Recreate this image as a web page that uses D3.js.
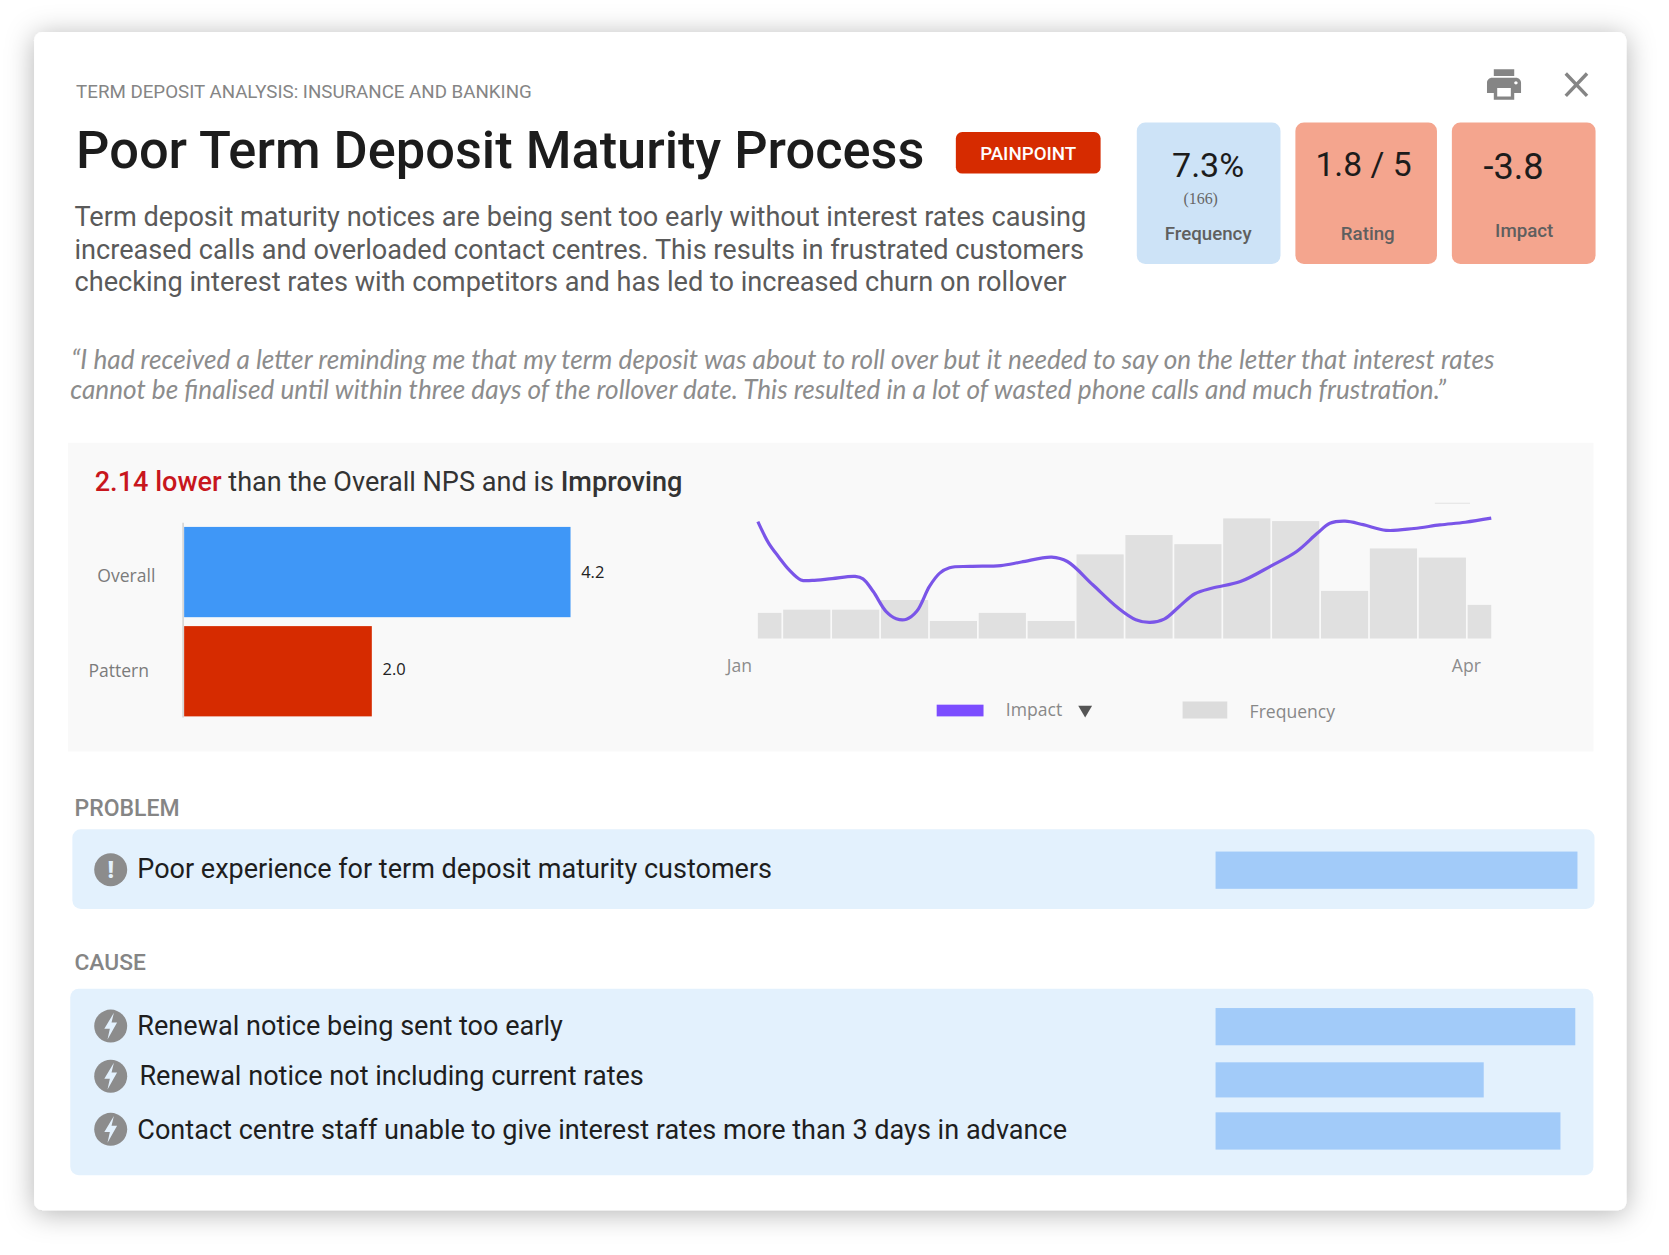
<!DOCTYPE html>
<html>
<head>
<meta charset="utf-8">
<script src="https://cdn.jsdelivr.net/npm/d3@7"></script>
<style>
  html, body { margin: 0; padding: 0; background: #fff; }
  text { font-family: Roboto, sans-serif; }
  .open { font-family: "Open Sans", sans-serif; }
</style>
</head>
<body>
<svg id="chart"></svg>
<script>
// nps bars
const npsLabels = ["Overall", "Pattern"];
const npsValues = [4.2, 2.04];

// frequency per week
const freqWeeks = [0, 1, 2, 3, 4, 5, 6, 7, 8, 9, 10, 11, 12, 13, 14, 15];
const freqValues = [4.8, 5.4, 5.4, 7.2, 3.3, 4.8, 3.3, 15.7, 19.3, 17.6, 22.4, 21.9, 8.9, 16.8, 15.1, 6.3];

// impact trend
const impactWeeks = [0, .22, .43, .64, .88, 1.11, 1.52, 1.99, 2.15, 2.36, 2.62, 2.83, 3.04, 3.25, 3.51, 3.72, 3.92, 4.34, 4.97, 5.39, 6.01, 6.33, 6.85, 7.37, 7.73, 8.02, 8.31, 8.62, 8.94, 9.30, 9.87, 10.50, 11.02, 11.44, 11.70, 12.01, 12.38, 12.85, 13.42, 13.95, 14.47, 15];
const impactValues = [-1.68, -2.47, -2.99, -3.46, -3.83, -3.85, -3.78, -3.70, -3.79, -4.26, -4.99, -5.26, -5.28, -4.99, -4.07, -3.58, -3.38, -3.33, -3.30, -3.17, -2.99, -3.15, -4.01, -4.87, -5.30, -5.40, -5.28, -4.81, -4.34, -4.13, -3.89, -3.31, -2.78, -2.11, -1.74, -1.66, -1.79, -2.00, -1.93, -1.80, -1.70, -1.55];

// month ticks
const monthTicks = [-0.39, 14.48];
const monthLabels = ["Jan", "Apr"];

// problem / cause rows
const problemText = ["Poor experience for term deposit maturity customers"];
const problemShare = [100];
const causeText = ["Renewal notice being sent too early", "Renewal notice not including current rates", "Contact centre staff unable to give interest rates more than 3 days in advance"];
const causeShare = [99.4, 74.1, 95.3];

const descLines = [
  "Term deposit maturity notices are being sent too early without interest rates causing",
  "increased calls and overloaded contact centres. This results in frustrated customers",
  "checking interest rates with competitors and has led to increased churn on rollover"
];
const quoteLines = [
  "\u201CI had received a letter reminding me that my term deposit was about to roll over but it needed to say on the letter that interest rates",
  "cannot be finalised until within three days of the rollover date. This resulted in a lot of wasted phone calls and much frustration.\u201D"
];

const svg = d3.select("#chart")
  .attr("width", 1669).attr("height", 1255)
  .attr("viewBox", "0 0 1568 1179")
  .style("display", "block");

let defs = svg.append("defs");
let shadow = defs.append("filter").attr("id", "shadow")
  .attr("x", "-5%").attr("y", "-5%").attr("width", "110%").attr("height", "110%");
shadow.append("feDropShadow").attr("dx", 0).attr("dy", 3).attr("stdDeviation", 13)
  .attr("flood-color", "#000").attr("flood-opacity", 0.3);
defs.append("clipPath").attr("id", "plot")
  .append("rect").attr("x", 712).attr("y", 460).attr("width", 689).attr("height", 140);

function box(x0, y0, x1, y1, fill, r) {
  return svg.append("rect").attr("x", x0).attr("y", y0)
    .attr("width", x1 - x0).attr("height", y1 - y0)
    .attr("rx", r).attr("fill", fill);
}

function label(x, y, str, size, color, weight, anchor) {
  return svg.append("text").attr("x", x).attr("y", y)
    .attr("font-size", size).attr("fill", color)
    .attr("font-weight", weight || 400)
    .attr("text-anchor", anchor || "start")
    .text(str);
}

box(32, 30, 1528, 1137, "#fff", 8).attr("filter", "url(#shadow)");

// header
label(71.5, 92.5, "TERM DEPOSIT ANALYSIS: INSURANCE AND BANKING", 17.6, "#858585");
label(71.5, 158, "Poor Term Deposit Maturity Process", 49.2, "#1c1c1c", 500);
box(898, 124, 1034, 163, "#d62b00", 6);
label(966, 150, "PAINPOINT", 17.6, "#fff", 500, "middle");

descLines.forEach((d, i) => {
  label(70, [212, 243, 273][i], d, 25.5, "#5a5a5a");
});

svg.append("path")
  .attr("transform", "translate(1393.8,60.2) scale(1.6)")
  .attr("fill", "#858585")
  .attr("d", "M19 8H5c-1.66 0-3 1.34-3 3v6h4v4h12v-4h4v-6c0-1.66-1.34-3-3-3zm-3 11H8v-5h8v5zm3-7c-.55 0-1-.45-1-1s.45-1 1-1 1 .45 1 1-.45 1-1 1zm-1-9H6v4h12V3z");
svg.append("path").attr("d", "M1471 69L1491 90M1491 69L1471 90")
  .attr("stroke", "#858585").attr("stroke-width", 3.2).attr("fill", "none");

// kpi cards
box(1068, 115, 1203, 248, "#cde3f7", 8);
box(1217, 115, 1350, 248, "#f4a58e", 8);
box(1364, 115, 1499, 248, "#f4a58e", 8);
label(1135, 166, "7.3%", 32, "#1c1c1c", 400, "middle");
label(1128, 192, "(166)", 15, "#666", 400, "middle").style("font-family", "'Liberation Serif', serif");
label(1135, 225, "Frequency", 17.6, "#5f5f5f", 500, "middle");
label(1281, 165, "1.8 / 5", 31.6, "#1c1c1c", 400, "middle");
label(1285, 225, "Rating", 17.6, "#5f5f5f", 500, "middle");
label(1422, 168, "-3.8", 34, "#1c1c1c", 400, "middle");
label(1432, 223, "Impact", 17.6, "#5f5f5f", 500, "middle");

// quote
quoteLines.forEach((d, i) => {
  label([67, 66][i], [347, 375][i], d, 24.6, "#8c8c8c").style("font-family", "Lato, sans-serif").style("font-style", "italic");
});

// nps panel
box(64, 416, 1497, 706, "#f9f9f9", 0);
let head = label(89, 461, "", 25.45, "#333");
head.append("tspan").attr("fill", "#c8161d").attr("font-weight", 500).text("2.14 lower");
head.append("tspan").text(" than the Overall NPS and is ");
head.append("tspan").attr("font-weight", 500).text("Improving");

let npsX = d3.scaleLinear().domain([0, 4.2]).range([173, 536]);
let npsY = d3.scaleBand().domain(npsLabels).range([495, 673]).paddingInner(0.09);

svg.append("line").attr("x1", 172).attr("x2", 172).attr("y1", 491).attr("y2", 674)
  .attr("stroke", "#ccc").attr("stroke-width", 1.2);

svg.append("g").selectAll("rect")
  .data(npsLabels)
  .enter()
  .append("rect")
  .attr("x", npsX(0))
  .attr("y", (d) => npsY(d))
  .attr("width", (d, i) => npsX(npsValues[i]) - npsX(0))
  .attr("height", npsY.bandwidth())
  .attr("fill", (d, i) => ["#3f97f7", "#d62b00"][i]);

svg.append("g").selectAll("text")
  .data(npsLabels)
  .enter()
  .append("text")
  .attr("class", "open")
  .attr("x", (d, i) => [146, 140][i])
  .attr("y", (d, i) => npsY(d) + npsY.bandwidth() / 2 + [9, 5][i])
  .attr("text-anchor", "end")
  .attr("font-size", 16.5)
  .attr("fill", "#7b7b7b")
  .text((d) => d);

svg.append("g").selectAll("text")
  .data(npsLabels)
  .enter()
  .append("text")
  .attr("class", "open")
  .attr("x", (d, i) => npsX(npsValues[i]) + 10)
  .attr("y", (d, i) => npsY(d) + npsY.bandwidth() / 2 + [6, 4][i])
  .attr("font-size", 15.5)
  .attr("fill", "#222")
  .text((d, i) => npsValues[i].toFixed(1));

// combo chart
let weekX = d3.scaleLinear().domain([0, 15]).range([712, 1401]);
let freqY = d3.scaleLinear().domain([0, 22.4]).range([600, 487]);
let impactY = d3.scaleLinear().domain([-6, -1]).range([600, 472.8]);
let barW = weekX(1) - weekX(0) - 1.6;

svg.append("g").attr("clip-path", "url(#plot)").selectAll("rect")
  .data(freqWeeks)
  .enter()
  .append("rect")
  .attr("x", (d) => weekX(d) - barW / 2)
  .attr("y", (d, i) => freqY(freqValues[i]))
  .attr("width", barW)
  .attr("height", (d, i) => freqY(0) - freqY(freqValues[i]))
  .attr("fill", "#e0e0e0");

let impactLine = d3.line()
  .x((d) => weekX(d))
  .y((d, i) => impactY(impactValues[i]))
  .curve(d3.curveCatmullRom.alpha(0.5));

svg.append("path")
  .attr("d", impactLine(impactWeeks))
  .attr("fill", "none")
  .attr("stroke", "#7a55e8")
  .attr("stroke-width", 3);

svg.append("line").attr("x1", 1348).attr("x2", 1381).attr("y1", 472.8).attr("y2", 472.8)
  .attr("stroke", "#e2e2e2").attr("stroke-width", 1);

let monthAxis = d3.axisBottom(weekX)
  .tickValues(monthTicks)
  .tickFormat((d, i) => monthLabels[i])
  .tickSize(0);

let axisG = svg.append("g").attr("transform", "translate(0,617)").call(monthAxis);
axisG.select(".domain").remove();
axisG.selectAll("text")
  .attr("class", "open")
  .attr("font-size", 16.5)
  .attr("fill", "#8c8c8c");

// legend
box(880, 662, 924, 673, "#7c4dff", 0);
label(945, 673, "Impact", 16.5, "#888").attr("class", "open");
svg.append("path").attr("d", "M1013 663L1026 663L1019.5 674Z").attr("fill", "#555");
box(1111, 659, 1153, 675, "#dcdcdc", 0);
label(1174, 675, "Frequency", 16.5, "#888").attr("class", "open");

// problem + cause
let shareX = d3.scaleLinear().domain([0, 100]).range([1142, 1482]);

function icon(cy, bolt) {
  svg.append("circle").attr("cx", 104).attr("cy", cy).attr("r", 15.5).attr("fill", "#8c8c8c");
  if (bolt) {
    svg.append("path")
      .attr("transform", `translate(104,${cy})`)
      .attr("d", "M3-12.5L-6 2.5L-0.8 2.5L-3 12.5L6-3.5L0.8-3.5Z")
      .attr("fill", "#e3f1fd");
  } else {
    label(104, cy + 7.5, "!", 22, "#e3f1fd", 900, "middle");
  }
}

label(70, 767, "PROBLEM", 21.6, "#858585", 500);
box(68, 779, 1498, 854, "#e3f1fd", 8);
svg.append("g").selectAll("rect")
  .data(problemShare)
  .enter()
  .append("rect")
  .attr("x", shareX(0))
  .attr("y", 800)
  .attr("width", (d) => shareX(d) - shareX(0))
  .attr("height", 35)
  .attr("fill", "#a2cbf9");
icon(817, false);
label(129, 825, problemText[0], 25.4, "#1e1e1e");

label(70, 911, "CAUSE", 21.4, "#858585", 500);
box(66, 929, 1497, 1104, "#e3f1fd", 8);
svg.append("g").selectAll("rect")
  .data(causeShare)
  .enter()
  .append("rect")
  .attr("x", shareX(0))
  .attr("y", (d, i) => [947, 998, 1045][i])
  .attr("width", (d) => shareX(d) - shareX(0))
  .attr("height", (d, i) => [35, 33, 35][i])
  .attr("fill", "#a2cbf9");

causeText.forEach((d, i) => {
  icon([964, 1011, 1061][i], true);
  label([129, 131, 129][i], [972, 1019, 1070][i], d, 25.45, "#1e1e1e");
});
</script>
</body>
</html>
